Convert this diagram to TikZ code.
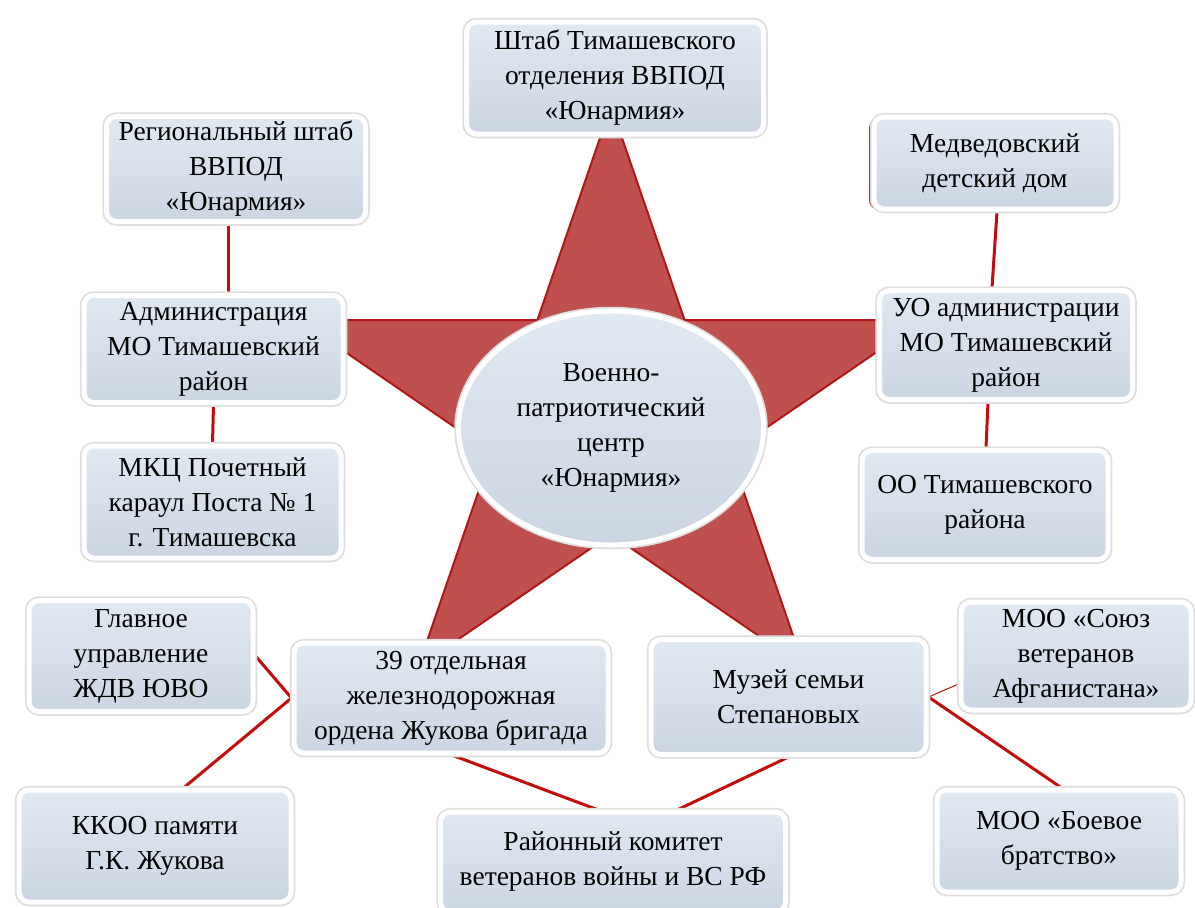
\documentclass[tikz,border=0pt]{standalone}
\usepackage{fontspec}
\setmainfont{Liberation Serif}
\usepackage{tikz}
\usetikzlibrary{shapes.geometric}
\pgfdeclarelayer{background}
\pgfsetlayers{background,main}
\definecolor{boxtop}{RGB}{224,232,241}
\definecolor{boxbot}{RGB}{204,214,227}
\definecolor{starred}{RGB}{192,80,77}
\definecolor{staredge}{RGB}{178,22,22}
\definecolor{linkred}{RGB}{196,12,12}

\begin{document}
\begin{tikzpicture}[x=1pt,y=-1pt,
			every node/.style={align=center,inner sep=0pt,font=\fontsize{27.5}{35}\selectfont},
			orgbox/.style args={#1x#2}{rectangle,rounded corners=10pt,
				draw=white,line width=5pt,top color=boxtop,bottom color=boxbot,
				preaction={draw=black!13,line width=8.5pt},
				minimum width=#1pt,minimum height=#2pt},
			centrebox/.style={ellipse,draw=white,line width=5pt,
				top color=boxtop,bottom color=boxbot,
				preaction={draw=black!13,line width=8.5pt},
				minimum width=305pt,minimum height=234pt},
			starshape/.style={fill=starred,draw=staredge,line width=2pt,line join=miter},
			link/.style={draw=linkred,line width=3pt},
			thinlink/.style={draw=linkred,line width=1pt}]
			\useasboundingbox (0,0) rectangle (1195,908);
			
			\foreach \i in {0,...,9}{
				\pgfmathsetmacro{\rr}{mod(\i,2)==0 ? 1 : 0.382}
				\coordinate (s\i) at ({611+328*\rr*cos(90+36*\i)},{416-310*\rr*sin(90+36*\i)});
			}
			\draw[starshape] (s0) -- (s1) -- (s2) -- (s3) -- (s4) -- (s5) -- (s6) -- (s7) -- (s8) -- (s9) -- cycle;
			
			\node[centrebox] (centre) at (611,428) {Военно-\\патриотический\\центр\\«Юнармия»};
			
			\node[orgbox=297x112] (shtab) at (615,78) {Штаб Тимашевского\\отделения ВВПОД\\«Юнармия»};
			\node[orgbox=259x105] (region) at (236,169) {Региональный штаб\\ВВПОД\\«Юнармия»};
			\node[rectangle,rounded corners=10pt,fill=linkred,minimum width=242pt,minimum height=92pt] (medvedshade) at (990,164) {};
			\node[orgbox=242x92] (medved) at (995,163) {Медведовский\\детский дом};
			\node[orgbox=259x107] (admin) at (213.5,349) {Администрация\\МО Тимашевский\\район};
			\node[orgbox=257x112] (mkc) at (212.5,502) {МКЦ Почетный\\караул Поста № 1\\г. Тимашевска};
			\node[orgbox=253x109] (uo) at (1006,345) {УО администрации\\МО Тимашевский\\район};
			\node[orgbox=246x109] (oo) at (985,505) {ОО Тимашевского\\района};
			\node[orgbox=224x111] (glav) at (141,656) {Главное\\управление\\ЖДВ ЮВО};
			\node[orgbox=314x110] (brig) at (451,698) {39 отдельная\\железнодорожная\\ордена Жукова бригада};
			\node[orgbox=275x115] (muzey) at (788.5,697) {Музей семьи\\Степановых};
			\node[orgbox=230x108] (souz) at (1076,656) {МОО «Союз\\ветеранов\\Афганистана»};
			\node[orgbox=272x112] (kkoo) at (155,846) {ККОО памяти\\Г.К. Жукова};
			\node[orgbox=345x100] (raion) at (613,862) {Районный комитет\\ветеранов войны и ВС РФ};
			\node[orgbox=244x102] (boevoe) at (1059,841) {МОО «Боевое\\братство»};
			
			\begin{pgfonlayer}{background}
				\draw[link] ([xshift=-8pt]region.south) -- ([xshift=14.5pt]admin.north);
				\draw[link] (admin.south) -- (mkc.north);
				\draw[link] ([xshift=2pt]medved.south) -- ([xshift=-14pt]uo.north);
				\draw[link] ([xshift=-18pt]uo.south) -- ([xshift=1pt]oo.north);
				\draw[link] (glav.east) -- (brig.west) -- ([xshift=29pt]kkoo.north);
				\draw[link] ([xshift=2pt]brig.south) -- ([xshift=-16pt]raion.north);
				\draw[link] (muzey.south) -- ([xshift=65pt]raion.north);
				\draw[thinlink] (muzey.east) -- ([yshift=-28pt]souz.west);
				\draw[link] (muzey.east) -- ([xshift=2pt]boevoe.north);
			\end{pgfonlayer}
		\end{tikzpicture}
\end{document}
